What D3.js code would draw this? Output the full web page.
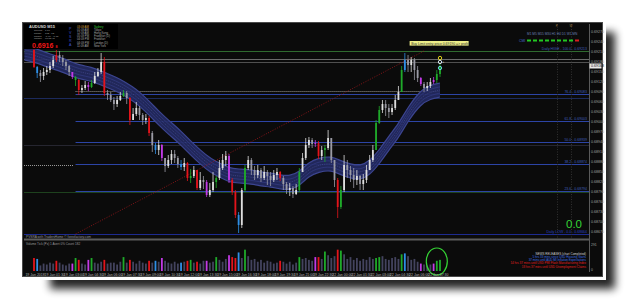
<!DOCTYPE html>
<html>
<head>
<meta charset="utf-8">
<script src="https://cdnjs.cloudflare.com/ajax/libs/d3/7.8.5/d3.min.js"></script>
<style>
body { margin: 0; background: #fff; }
svg text { font-family: "Liberation Sans", "DejaVu Sans", sans-serif; }
</style>
</head>
<body>
<div id="chart"></div>
<script>
// Chart data (AUDUSD M15)

var firstOpen = 0.69216;

var closes = [
  0.69165, 0.69147, 0.69138, 0.69150, 0.69156, 0.69168, 0.69186, 0.69201, 0.69192, 0.69180,
  0.69168, 0.69150, 0.69135, 0.69126, 0.69096, 0.69102, 0.69111, 0.69105, 0.69117, 0.69138,
  0.69150, 0.69180, 0.69087, 0.69081, 0.69066, 0.69054, 0.69066, 0.69078, 0.69087, 0.69072,
  0.69006, 0.69024, 0.69042, 0.69021, 0.69006, 0.69012, 0.68967, 0.68931, 0.68916, 0.68931,
  0.68892, 0.68868, 0.68886, 0.68904, 0.68892, 0.68874, 0.68865, 0.68877, 0.68832, 0.68838,
  0.68856, 0.68802, 0.68826, 0.68820, 0.68781, 0.68796, 0.68820, 0.68832, 0.68862, 0.68886,
  0.68898, 0.68826, 0.68790, 0.68721, 0.68691, 0.68796, 0.68862, 0.68886, 0.68856, 0.68841,
  0.68856, 0.68832, 0.68850, 0.68838, 0.68826, 0.68841, 0.68850, 0.68832, 0.68814, 0.68796,
  0.68802, 0.68784, 0.68796, 0.68850, 0.68892, 0.68931, 0.68946, 0.68934, 0.68937, 0.68898,
  0.68916, 0.68922, 0.68952, 0.68886, 0.68826, 0.68745, 0.68796, 0.68871, 0.68856, 0.68841,
  0.68826, 0.68838, 0.68814, 0.68826, 0.68856, 0.68886, 0.68916, 0.68997, 0.69036, 0.69054,
  0.69042, 0.69030, 0.69042, 0.69066, 0.69090, 0.69156, 0.69186, 0.69171, 0.69186, 0.69156,
  0.69132, 0.69114, 0.69102, 0.69108, 0.69120, 0.69126, 0.69144, 0.69168
];

var highs = [
  0.69222, 0.69168, 0.69156, 0.69162, 0.69168, 0.69180, 0.69198, 0.69216, 0.69213, 0.69201,
  0.69186, 0.69171, 0.69150, 0.69138, 0.69129, 0.69111, 0.69123, 0.69120, 0.69126, 0.69150,
  0.69162, 0.69207, 0.69195, 0.69096, 0.69090, 0.69075, 0.69078, 0.69090, 0.69096, 0.69093,
  0.69075, 0.69042, 0.69060, 0.69048, 0.69027, 0.69024, 0.69018, 0.68973, 0.68937, 0.68946,
  0.68934, 0.68892, 0.68901, 0.68916, 0.68916, 0.68898, 0.68886, 0.68892, 0.68880, 0.68859,
  0.68868, 0.68856, 0.68850, 0.68838, 0.68826, 0.68817, 0.68850, 0.68838, 0.68886, 0.68904,
  0.68913, 0.68904, 0.68832, 0.68796, 0.68730, 0.68802, 0.68871, 0.68898, 0.68892, 0.68868,
  0.68871, 0.68862, 0.68868, 0.68856, 0.68850, 0.68856, 0.68862, 0.68853, 0.68838, 0.68820,
  0.68817, 0.68808, 0.68814, 0.68862, 0.68907, 0.68952, 0.68955, 0.68952, 0.68946, 0.68943,
  0.68928, 0.68931, 0.68976, 0.68952, 0.68886, 0.68832, 0.68808, 0.68901, 0.68886, 0.68868,
  0.68862, 0.68856, 0.68841, 0.68844, 0.68871, 0.68901, 0.68931, 0.69006, 0.69048, 0.69066,
  0.69066, 0.69054, 0.69054, 0.69081, 0.69108, 0.69168, 0.69207, 0.69201, 0.69195, 0.69192,
  0.69168, 0.69135, 0.69120, 0.69120, 0.69132, 0.69135, 0.69156, 0.69177
];

var lows = [
  0.69162, 0.69132, 0.69120, 0.69126, 0.69141, 0.69147, 0.69162, 0.69180, 0.69180, 0.69168,
  0.69156, 0.69138, 0.69129, 0.69108, 0.69081, 0.69087, 0.69096, 0.69093, 0.69102, 0.69114,
  0.69135, 0.69144, 0.69078, 0.69066, 0.69060, 0.69036, 0.69045, 0.69063, 0.69075, 0.69054,
  0.68991, 0.69006, 0.69018, 0.69006, 0.68991, 0.68994, 0.68958, 0.68910, 0.68904, 0.68901,
  0.68883, 0.68850, 0.68862, 0.68874, 0.68877, 0.68862, 0.68856, 0.68853, 0.68823, 0.68817,
  0.68832, 0.68796, 0.68796, 0.68799, 0.68775, 0.68775, 0.68790, 0.68802, 0.68826, 0.68856,
  0.68868, 0.68817, 0.68781, 0.68712, 0.68667, 0.68682, 0.68790, 0.68856, 0.68841, 0.68826,
  0.68832, 0.68820, 0.68826, 0.68811, 0.68808, 0.68820, 0.68826, 0.68823, 0.68796, 0.68784,
  0.68778, 0.68772, 0.68781, 0.68790, 0.68850, 0.68886, 0.68922, 0.68922, 0.68925, 0.68889,
  0.68886, 0.68880, 0.68916, 0.68877, 0.68805, 0.68712, 0.68739, 0.68790, 0.68832, 0.68820,
  0.68802, 0.68811, 0.68796, 0.68796, 0.68817, 0.68856, 0.68880, 0.68916, 0.68994, 0.69027,
  0.69018, 0.69012, 0.69021, 0.69036, 0.69066, 0.69090, 0.69150, 0.69150, 0.69150, 0.69126,
  0.69120, 0.69108, 0.69090, 0.69093, 0.69102, 0.69114, 0.69117, 0.69135
];

// tick volume per bar
var volumes = [
  140, 130, 60, 80, 70, 90, 80, 110, 90, 70,
  60, 80, 80, 140, 120, 80, 70, 120, 140, 90,
  80, 100, 120, 80, 90, 90, 70, 100, 150, 90,
  120, 100, 80, 110, 90, 80, 110, 90, 110, 100,
  140, 110, 90, 80, 100, 80, 90, 100, 110, 120,
  90, 100, 80, 110, 110, 90, 100, 150, 120, 100,
  130, 170, 150, 140, 200, 140, 230, 160, 120, 130,
  100, 120, 90, 110, 100, 80, 90, 110, 100, 80,
  100, 70, 90, 150, 130, 140, 120, 110, 150, 150,
  130, 210, 170, 140, 160, 230, 220, 180, 130, 150,
  120, 140, 110, 130, 120, 150, 130, 140, 150, 160,
  130, 120, 140, 150, 130, 180, 190, 160, 120, 130,
  100, 80, 70, 60, 70, 80, 110, 120
];

// PVSRA volume class of the highlighted bars
var volClass = {
  0: "r", 1: "b", 7: "r", 12: "m", 13: "g", 14: "r", 17: "m", 18: "g", 22: "r", 28: "g",
  30: "r", 36: "r", 38: "b", 40: "m", 46: "b", 48: "r", 49: "g", 51: "r", 54: "m", 57: "g",
  61: "m", 62: "r", 63: "r", 64: "b", 66: "g", 77: "r", 83: "g", 88: "m", 89: "r", 91: "g",
  95: "r", 96: "g", 107: "g", 108: "g", 115: "g", 116: "b", 121: "m", 125: "m", 126: "g", 127: "g"
};

// moving average band (bar index, mid price)
var maIdx = [-3, 0, 5, 8, 11, 14, 18, 21, 24, 27, 31, 33, 36, 39, 42, 46, 49, 52, 55, 58, 61,
  64, 68, 71, 74, 77, 80, 83, 86, 89, 93, 96, 99, 102, 105, 108, 111, 114, 117, 121, 124, 127];
var maMid = [0.69207, 0.69201, 0.69183, 0.69174, 0.69162, 0.69150, 0.69144, 0.69132, 0.69120,
  0.69108, 0.69084, 0.69069, 0.69042, 0.69012, 0.68985, 0.68952, 0.68922, 0.68895, 0.68871,
  0.68856, 0.68841, 0.68838, 0.68835, 0.68829, 0.68826, 0.68820, 0.68817, 0.68829, 0.68859,
  0.68871, 0.68877, 0.68862, 0.68853, 0.68847, 0.68862, 0.68895, 0.68937, 0.68973, 0.69024,
  0.69075, 0.69090, 0.69096];
var envelope = 0.00021;

// Fibonacci from the low to the high
var fibLevels = [0, 23.6, 38.2, 50, 61.8, 76.4, 100];
var fibLow = 0.68664;
var fibHigh = 0.69213;
var fibFrom = 13;
var fibTo = 122;

// other price lines
var greyLevels = [0.69189, 0.69180];
var dottedLevel = 0.69093;
var shortDotted = 0.68871;
var darkBlueLevel = 0.69072;
var faintLevel = 0.68931;
var darkGreenLevel = 0.68790;

// order markers on the last bar
var markerPrices = [0.69192, 0.69180, 0.69162];
var markerColors = ["#f2e21c", "#e8f4ff", "#6fe0f0"];

var timeLabels = ["19 Jan 2018", "19 Jan 01:30", "19 Jan 03:00", "19 Jan 04:30", "19 Jan 06:00",
  "19 Jan 07:30", "19 Jan 09:00", "19 Jan 10:30", "19 Jan 12:00", "19 Jan 13:30", "19 Jan 15:00",
  "19 Jan 16:30", "19 Jan 18:00", "19 Jan 19:30", "19 Jan 21:00", "19 Jan 22:30", "22 Jan 00:00",
  "22 Jan 01:30", "22 Jan 03:00", "22 Jan 04:30", "22 Jan 06:00", "22 Jan 07:30"];

var sessionTimes = ["03:09 AM", "01:09 AM", "12:09 AM", "05:09 PM", "04:09 PM", "04:09 PM", "11:09 AM"];
var sessionNames = ["Sydney", "Tokyo", "Hong Kong", "Frankfurt (D)", "Frankfurt", "London (D)", "New York"];
var infoRows = ["Spread", "Range", "Swaps", "Candle"];
var infoValues = ["1.10", "102 . 72", "-1.97 . -0.15", "00:05:48"];
var cmiSignals = [1, 1, 1, 1, 1, 1, 1, 1, 0];
var newsLines = ["NEWS RELEASES  (chart Completed)",
  "5 hrs 33 mins since USD Housing Starts",
  "37 mins until AUD MI Inflation Expectations",
  "14 hrs 37 mins until USD PMI Flash Manufacturing Index",
  "18 hrs 37 mins until USD Unemployment Claims"];
var newsColors = ["#d0d0d0", "#3f6fe0", "#3f6fe0", "#e02020", "#e02020"];

// Set up the chart

var svgWidth = 625;
var svgHeight = 300;

var plot = { left: 24, right: 589, top: 24, bottom: 238 };
var volPane = { top: 241, bottom: 271 };

var svg = d3.select("#chart")
  .append("svg")
  .attr("width", svgWidth)
  .attr("height", svgHeight);

var defs = svg.append("defs");
defs.append("filter")
  .attr("id", "blur")
  .attr("x", "-10%").attr("y", "-10%")
  .attr("width", "120%").attr("height", "120%")
  .append("feGaussianBlur")
  .attr("stdDeviation", 4);
defs.append("clipPath")
  .attr("id", "mainClip")
  .append("rect")
  .attr("x", plot.left).attr("y", plot.top)
  .attr("width", plot.right - plot.left).attr("height", plot.bottom - plot.top);

// drop shadow + frame
svg.append("rect")
  .attr("x", 50).attr("y", 32)
  .attr("width", 565).attr("height", 257)
  .attr("fill", "#000")
  .attr("opacity", 0.85)
  .attr("filter", "url(#blur)");
svg.append("rect")
  .attr("x", 19).attr("y", 19)
  .attr("width", 587).attr("height", 261)
  .attr("fill", "#fff");
svg.append("rect")
  .attr("x", 22.5).attr("y", 22.5)
  .attr("width", 580).attr("height", 254)
  .attr("fill", "#0b0b0b")
  .attr("stroke", "#4a4a4a");

// Create scaling functions
var xScale = d3.scaleLinear()
  .domain([0, closes.length - 1])
  .range([34, 440]);

var yScale = d3.scaleLinear()
  .domain([0.68658, 0.69294])
  .range([236, 24]);

var vScale = d3.scaleLinear()
  .domain([0, 291])
  .range([volPane.bottom, 244]);

var candles = closes.map(function(c, i) {
  var o = i === 0 ? firstOpen : closes[i - 1];
  return {
    i: i, o: o, c: c,
    h: Math.max(highs[i], o, c),
    l: Math.min(lows[i], o, c),
    v: volumes[i],
    k: volClass[i] || ""
  };
});

var classColor = { r: "#e3141b", g: "#1faa2a", b: "#2f8fe6", m: "#c23ae6" };

function candleColor(d) {
  if (d.k) return classColor[d.k];
  return d.c >= d.o ? "#dedede" : "#9a9aa4";
}

var fmt = d3.format(".5f");

var main = svg.append("g").attr("clip-path", "url(#mainClip)");

// Horizontal levels
function hLine(price, x1, x2, color, width, dash) {
  main.append("line")
    .attr("x1", x1).attr("x2", x2)
    .attr("y1", Math.round(yScale(price)) + 0.5)
    .attr("y2", Math.round(yScale(price)) + 0.5)
    .attr("stroke", color)
    .attr("stroke-width", width)
    .attr("stroke-dasharray", dash || null);
}

hLine(fibHigh, plot.left, plot.right, "#2f6a2f", 1);
hLine(greyLevels[0], plot.left, plot.right, "#6a6a6a", 1);
hLine(greyLevels[1], plot.left, plot.right, "#505050", 1);
hLine(darkBlueLevel, plot.left, plot.right, "#1c2a5c", 1);
hLine(faintLevel, plot.left, plot.right, "#262630", 1);
hLine(darkGreenLevel, plot.left, plot.right, "#1e421e", 1);
hLine(dottedLevel, xScale(fibFrom), xScale(closes.length - 1), "#bdbdbd", 0.8, "1,1");
hLine(shortDotted, plot.left, 74, "#bdbdbd", 0.8, "1,1");

fibLevels.forEach(function(lv) {
  var price = fibLow + (fibHigh - fibLow) * lv / 100;
  if (lv === 100) return;
  var x1 = lv === 0 ? plot.left : xScale(fibFrom);
  hLine(price, x1, plot.right, lv === 0 ? "#1d2b90" : "#2c44a6", 1.1);
});

// vertical dotted markers (future bars)
[163.5, 168].forEach(function(idx) {
  main.append("line")
    .attr("x1", Math.round(xScale(idx)) + 0.5).attr("x2", Math.round(xScale(idx)) + 0.5)
    .attr("y1", plot.top).attr("y2", plot.bottom)
    .attr("stroke", "#3a3a3a")
    .attr("stroke-width", 0.8)
    .attr("stroke-dasharray", "1,1.5");
});

// Moving average band
var band = maIdx.map(function(d, i) { return { i: d, m: maMid[i] }; });

var bandArea = d3.area()
  .x(function(d) { return xScale(d.i); })
  .y0(function(d) { return yScale(d.m - envelope); })
  .y1(function(d) { return yScale(d.m + envelope); })
  .curve(d3.curveBasis);

function bandLine(off) {
  return d3.line()
    .x(function(d) { return xScale(d.i); })
    .y(function(d) { return yScale(d.m + off); })
    .curve(d3.curveBasis);
}

main.append("path")
  .datum(band)
  .attr("d", bandArea)
  .attr("fill", "#242a62")
  .attr("opacity", 0.92);

[envelope, -envelope].forEach(function(off) {
  main.append("path").datum(band).attr("d", bandLine(off))
    .attr("fill", "none").attr("stroke", "#3c4590").attr("stroke-width", 1.2);
});
[envelope * 0.45, -envelope * 0.45].forEach(function(off) {
  main.append("path").datum(band).attr("d", bandLine(off))
    .attr("fill", "none").attr("stroke", "#30387c").attr("stroke-width", 0.9);
});
main.append("path").datum(band).attr("d", bandLine(0))
  .attr("fill", "none").attr("stroke", "#5058a0").attr("stroke-width", 0.5)
  .attr("stroke-dasharray", "1.2,1");

// Fibonacci trend line
main.append("line")
  .attr("x1", xScale(fibFrom)).attr("y1", yScale(fibLow))
  .attr("x2", xScale(fibTo)).attr("y2", yScale(fibHigh))
  .attr("stroke", "#a3161a")
  .attr("stroke-width", 0.8)
  .attr("stroke-dasharray", "1,1.5");

// Add candles
main.selectAll(".wick")
  .data(candles)
  .enter()
  .append("line")
  .attr("class", "wick")
  .attr("x1", d => xScale(d.i)).attr("x2", d => xScale(d.i))
  .attr("y1", d => yScale(d.h)).attr("y2", d => yScale(d.l))
  .attr("stroke", candleColor)
  .attr("stroke-width", 0.8);

main.selectAll(".body")
  .data(candles)
  .enter()
  .append("rect")
  .attr("class", "body")
  .attr("x", d => xScale(d.i) - 0.9)
  .attr("width", 1.8)
  .attr("y", d => yScale(Math.max(d.o, d.c)))
  .attr("height", d => Math.max(0.8, Math.abs(yScale(d.o) - yScale(d.c))))
  .attr("fill", candleColor);

// order markers on last bar
markerPrices.forEach(function(p, i) {
  main.append("circle")
    .attr("cx", xScale(closes.length - 1))
    .attr("cy", yScale(p))
    .attr("r", 1.7)
    .attr("fill", "none")
    .attr("stroke", markerColors[i])
    .attr("stroke-width", 0.9);
});
main.append("text")
  .attr("x", xScale(closes.length - 1) + 2).attr("y", yScale(markerPrices[1]) + 1)
  .attr("font-size", 4).attr("fill", "#ddd").text("+");

// yellow order label
var lbl = main.append("g")
  .attr("transform", "translate(" + xScale(117.5) + "," + yScale(0.69243) + ")");
lbl.append("rect").attr("x", 0).attr("y", 0).attr("width", 59).attr("height", 4.6)
  .attr("fill", "#eeee88");
lbl.append("text").attr("x", 1.5).attr("y", 3.6).attr("font-size", 3.4).attr("fill", "#333")
  .text("Buy Limit  entry price 0.69190 => profit");

// Right-hand labels on the levels
var lvlText = svg.append("g").attr("font-size", 3.5).attr("text-anchor", "end");
fibLevels.forEach(function(lv) {
  var price = fibLow + (fibHigh - fibLow) * lv / 100;
  var name = lv === 100 ? "Daily HIGH - 100.0 - " : lv === 0 ? "Daily LOW - 0.0 - " : d3.format(".1f")(lv) + " - ";
  lvlText.append("text")
    .attr("x", 587).attr("y", Math.round(yScale(price)) - 0.8)
    .attr("fill", lv === 0 ? "#2a3fc0" : "#3f5cb8")
    .text(name + fmt(price));
});

svg.append("text")
  .attr("x", 566).attr("y", 227.5)
  .attr("font-size", 11.5)
  .attr("fill", "#35d535")
  .text("0.0");

// Top-left info panel
var info = svg.append("g");
info.append("rect").attr("x", 24).attr("y", 24).attr("width", 94).attr("height", 25).attr("fill", "#000");
info.append("text").attr("x", 29).attr("y", 28.3).attr("font-size", 4).attr("font-weight", "bold")
  .attr("fill", "#d8d8d8").text("AUDUSD    M15");
infoRows.forEach(function(r, i) {
  info.append("text").attr("x", 34).attr("y", 31.2 + i * 2.7).attr("font-size", 2.5).attr("fill", "#a0a0a0").text(r);
  info.append("text").attr("x", 45).attr("y", 31.2 + i * 2.7).attr("font-size", 2.5).attr("fill", "#a0a0a0").text(infoValues[i]);
});
var lastClose = fmt(closes[closes.length - 1]);
info.append("text").attr("x", 32).attr("y", 47.5).attr("font-size", 7).attr("font-weight", "bold")
  .attr("fill", "#f01818").text(lastClose.slice(0, 6));
info.append("text").attr("x", 55.5).attr("y", 47.5).attr("font-size", 3.6).attr("font-weight", "bold")
  .attr("fill", "#f01818").text(lastClose.slice(6));
["P", "V", "S", "R", "A"].forEach(function(c, i) {
  info.append("text").attr("x", 69).attr("y", 30 + i * 4).attr("font-size", 3.6)
    .attr("fill", "#3e52cc").text(c);
});
sessionTimes.forEach(function(t, i) {
  info.append("text").attr("x", 77).attr("y", 28 + i * 3.1).attr("font-size", 2.8)
    .attr("fill", i === 0 ? "#d9a040" : "#a8a8a8").text(t);
  info.append("text").attr("x", 94).attr("y", 28 + i * 3.1).attr("font-size", 2.8)
    .attr("fill", i === 0 ? "#35c935" : "#a8a8a8").text(sessionNames[i]);
});

// Top-right timeframe / CMI strip
svg.append("text").attr("x", 527).attr("y", 34.5).attr("font-size", 3.2).attr("fill", "#6a7fb4")
  .text("M1  M5  M15  M30   H1   H4   D1  W1  MN");
svg.append("text").attr("x", 519).attr("y", 41.5).attr("font-size", 3.4).attr("fill", "#4a6ad0").text("CMI");
svg.selectAll(".cmi")
  .data(cmiSignals)
  .enter()
  .append("rect")
  .attr("class", "cmi")
  .attr("x", (d, i) => 527 + i * 6)
  .attr("y", 39.5)
  .attr("width", 4).attr("height", 2)
  .attr("fill", d => d ? "#22c822" : "#d82020");
svg.append("text").attr("x", xScale(163.5) - 1).attr("y", 26.5).attr("font-size", 3).attr("fill", "#a08040").text("F");
svg.append("text").attr("x", xScale(168) - 1.5).attr("y", 26.5).attr("font-size", 3).attr("fill", "#a08040").text("W");

svg.append("text").attr("x", 26).attr("y", 237.5).attr("font-size", 3.2).attr("fill", "#9a9a9a")
  .text("PVSRA with TradersHome   © forexfactory.com");

// Pane separator
svg.append("rect").attr("x", plot.left).attr("y", 238.5).attr("width", plot.right - plot.left)
  .attr("height", 2).attr("fill", "#5c5c5c");

// Volume pane
svg.append("text").attr("x", 26).attr("y", 244.5).attr("font-size", 3.1).attr("fill", "#9a9a9a")
  .text("Volume Tick (Px) 1    Avert 0%    Count 182");

svg.selectAll(".vol")
  .data(candles)
  .enter()
  .append("rect")
  .attr("class", "vol")
  .attr("x", d => xScale(d.i) - 0.9)
  .attr("width", 1.8)
  .attr("y", d => vScale(d.v))
  .attr("height", d => volPane.bottom - vScale(d.v))
  .attr("fill", d => d.k ? classColor[d.k] : "#43435e");

svg.append("ellipse")
  .attr("cx", xScale(126)).attr("cy", 261.5)
  .attr("rx", 10.5).attr("ry", 13.5)
  .attr("fill", "none")
  .attr("stroke", "#35d535")
  .attr("stroke-width", 1.2);

newsLines.forEach(function(t, i) {
  svg.append("text").attr("x", 586).attr("y", 254.5 + i * 3.3).attr("text-anchor", "end")
    .attr("font-size", 3).attr("fill", newsColors[i]).text(t);
});

// Price axis
svg.append("line").attr("x1", plot.right + 0.5).attr("x2", plot.right + 0.5)
  .attr("y1", plot.top).attr("y2", 272).attr("stroke", "#5a5a5a");

var priceTicks = d3.range(68670, 69271, 30).map(v => v / 1e5);
svg.selectAll(".ptick")
  .data(priceTicks)
  .enter()
  .append("text")
  .attr("class", "ptick")
  .attr("x", 591).attr("y", d => yScale(d) + 1.3)
  .attr("font-size", 3.6).attr("fill", "#a0a0a0")
  .text(d => fmt(d));

var cy = yScale(closes[closes.length - 1]);
svg.append("rect").attr("x", 589.5).attr("y", cy - 2.5).attr("width", 12).attr("height", 5).attr("fill", "#e8e8e8");
svg.append("text").attr("x", 591).attr("y", cy + 1.3).attr("font-size", 3.6).attr("fill", "#111").text(lastClose);

svg.append("text").attr("x", 591).attr("y", 246).attr("font-size", 3.4).attr("fill", "#a0a0a0").text(vScale.domain()[1]);
svg.append("text").attr("x", 591).attr("y", 271).attr("font-size", 3.4).attr("fill", "#a0a0a0").text("0");

// Time axis
svg.selectAll(".ttick")
  .data(timeLabels)
  .enter()
  .append("text")
  .attr("class", "ttick")
  .attr("x", (d, i) => xScale(-3 + i * 6) + 1)
  .attr("y", 275.7)
  .attr("font-size", 3.5)
  .attr("fill", "#b0b0b0")
  .text(d => d);
</script>
